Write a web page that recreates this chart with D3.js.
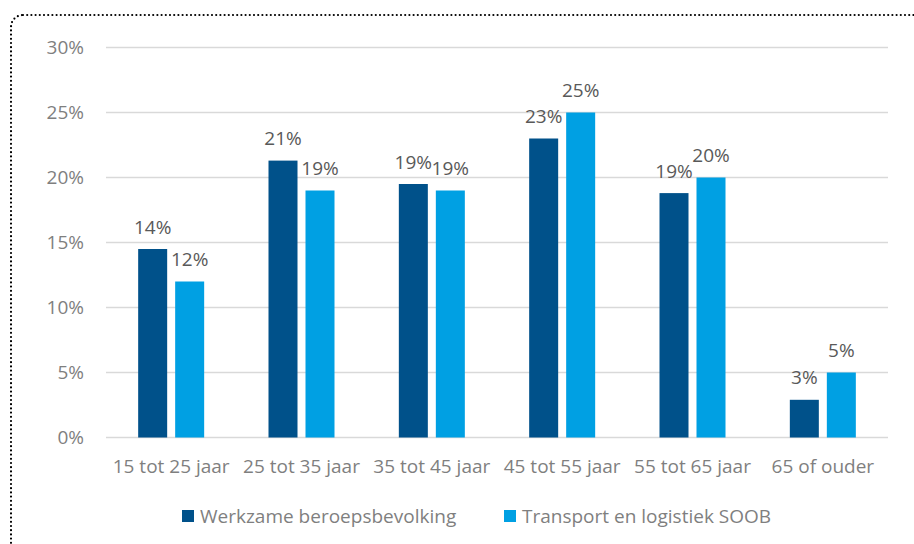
<!DOCTYPE html>
<html><head><meta charset="utf-8">
<script src="https://cdn.jsdelivr.net/npm/d3@7"></script>
<style>body{margin:0;background:#fff}svg{display:block}</style>
</head><body>
<svg id="c" width="914" height="544"></svg>
<script>
const categories = ["15 tot 25 jaar","25 tot 35 jaar","35 tot 45 jaar","45 tot 55 jaar","55 tot 65 jaar","65 of ouder"];
const werkzame = [14.5, 21.3, 19.5, 23.0, 18.8, 2.9];
const transport = [12.0, 19.0, 19.0, 25.0, 20.0, 5.0];
const werkzameLabels = ["14%","21%","19%","23%","19%","3%"];
const transportLabels = ["12%","19%","19%","25%","20%","5%"];
const seriesNames = ["Werkzame beroepsbevolking","Transport en logistiek SOOB"];
const yTicks = [0,5,10,15,20,25,30];
const colors = ["#00518A","#00A0E3"];

(function(){
const font = "'Open Sans', sans-serif";
const fs = 19;
const svg = d3.select("#c");

svg.append("rect").attr("x",11).attr("y",15).attr("width",930).attr("height",570).attr("rx",12)
  .attr("fill","none").attr("stroke","#000").attr("stroke-width",2.2)
  .attr("stroke-dasharray","0 4.2").attr("stroke-linecap","round");

const pLeft=106, pRight=888, pTop=47.5, pBottom=437.5;
const x0 = d3.scaleBand().domain(categories).range([pLeft,pRight]).paddingInner(0).paddingOuter(0);
const y = d3.scaleLinear().domain([0,30]).range([pBottom,pTop]);

svg.append("g").selectAll("line").data(yTicks).join("line")
  .attr("x1",pLeft).attr("x2",pRight).attr("y1",d=>y(d)).attr("y2",d=>y(d))
  .attr("stroke","#D9D9D9").attr("stroke-width",1.3);

svg.append("g").selectAll("text").data(yTicks).join("text")
  .attr("x",84).attr("y",d=>y(d)).attr("dy","0.35em").attr("text-anchor","end")
  .attr("font-family",font).attr("font-size",fs).attr("fill","#7F7F7F")
  .text(d=>d+"%");

const barW = 29, gap = 8;
const series = [werkzame, transport];
const labels = [werkzameLabels, transportLabels];
series.forEach((vals,si)=>{
  const off = si===0 ? -(gap/2+barW) : gap/2;
  const g = svg.append("g");
  g.selectAll("rect").data(vals).join("rect")
    .attr("x",(d,i)=>x0(categories[i])+x0.bandwidth()/2+off)
    .attr("y",d=>y(d)).attr("width",barW).attr("height",d=>y(0)-y(d))
    .attr("fill",colors[si]);
  g.selectAll("text").data(vals).join("text")
    .attr("x",(d,i)=>x0(categories[i])+x0.bandwidth()/2+off+barW/2)
    .attr("y",d=>y(d)-22).attr("dy","0.35em").attr("text-anchor","middle")
    .attr("font-family",font).attr("font-size",fs).attr("fill","#595959")
    .text((d,i)=>labels[si][i]);
});

svg.append("g").selectAll("text").data(categories).join("text")
  .attr("x",d=>x0(d)+x0.bandwidth()/2).attr("y",466).attr("dy","0.35em").attr("text-anchor","middle")
  .attr("font-family",font).attr("font-size",fs).attr("fill","#7F7F7F")
  .text(d=>d);

const legX = [182, 504];
seriesNames.forEach((n,i)=>{
  svg.append("rect").attr("x",legX[i]).attr("y",510).attr("width",12).attr("height",12).attr("fill",colors[i]);
  svg.append("text").attr("x",legX[i]+18).attr("y",516).attr("dy","0.35em")
    .attr("font-family",font).attr("font-size",fs).attr("fill","#7F7F7F").text(n);
});
})();
</script>
</body></html>
